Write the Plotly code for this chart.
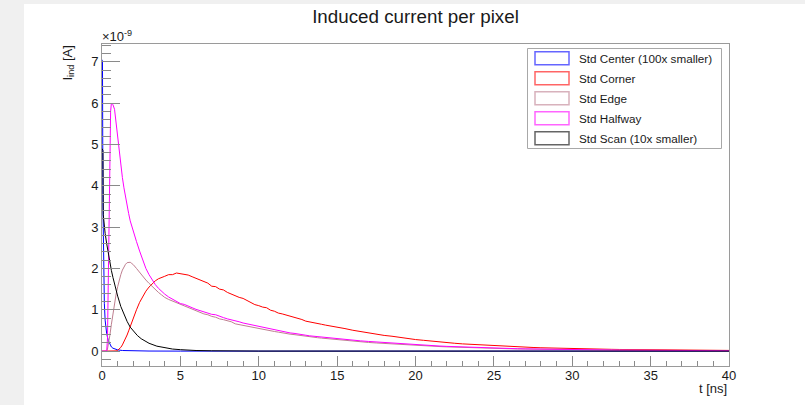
import plotly.graph_objects as go

# ---------------------------------------------------------------------------
# Induced current per pixel (values in units of 1e-9 A, time in ns)
# ---------------------------------------------------------------------------

SERIES_NAMES = ["Std Center (100x smaller)", "Std Corner", "Std Edge",
                "Std Halfway", "Std Scan (10x smaller)"]
SERIES_COLORS = ["#0000ff", "#ff0000", "#bf7f90", "#ff00ff", "#000000"]

# Common bin centres for the slow tails (4 ns .. 40 ns)
TAIL_T = [round(4.0 + 0.25 * i, 2) for i in range(45)] + \
         [round(15.5 + 0.5 * i, 1) for i in range(50)]

# Std Center (already scaled down by 100)
center_t = [0, 0.03, 0.06, 0.1, 0.15, 0.2, 0.3, 0.4, 0.5, 0.6, 0.7, 0.8,
            1.0, 1.3, 2.0, 3.0, 5.0, 40.0]
center_v = [7.05, 7.0, 3.6, 2.0, 1.15, 0.75, 0.42, 0.26, 0.16, 0.1, 0.07,
            0.05, 0.03, 0.015, 0.005, 0.002, 0.0, 0.0]

# Std Corner
corner_t_early = [0, 0.8, 0.9, 1.0, 1.1, 1.2, 1.3, 1.4, 1.5, 1.6, 1.7, 1.8,
                  1.9, 2.0, 2.2, 2.4, 2.6, 2.8, 3.0, 3.2, 3.4, 3.6, 3.8]
corner_v_early = [0, 0, 0.005, 0.02, 0.05, 0.09, 0.15, 0.22, 0.30, 0.39,
                  0.49, 0.60, 0.70, 0.80, 1.0, 1.18, 1.33, 1.45, 1.55, 1.63,
                  1.70, 1.75, 1.79]
corner_v_tail = [1.81, 1.85, 1.85, 1.89, 1.87, 1.85, 1.84, 1.80, 1.76, 1.735,
                 1.68, 1.645, 1.57, 1.56, 1.50, 1.48, 1.42, 1.375, 1.345, 1.30,
                 1.275, 1.22, 1.18, 1.125, 1.10, 1.065, 1.05, 0.99, 0.965, 0.92,
                 0.90, 0.875, 0.84, 0.825, 0.79, 0.765, 0.725, 0.71, 0.69, 0.68,
                 0.65, 0.63, 0.615, 0.59, 0.57,
                 0.545, 0.505, 0.47, 0.445, 0.41, 0.38, 0.36, 0.33, 0.305, 0.28,
                 0.262, 0.24, 0.222, 0.207, 0.19, 0.175, 0.164, 0.15, 0.14, 0.131,
                 0.12, 0.11, 0.103, 0.095, 0.088, 0.081, 0.075, 0.07, 0.066, 0.06,
                 0.056, 0.051, 0.048, 0.045, 0.043, 0.04, 0.037, 0.035, 0.034, 0.031,
                 0.029, 0.027, 0.026, 0.024, 0.023, 0.021, 0.02, 0.019, 0.018, 0.017]

# Std Edge
edge_t_early = [0, 0.3, 0.35, 0.4, 0.5, 0.6, 0.7, 0.8, 0.9, 1.0, 1.1, 1.2,
                1.3, 1.4, 1.5, 1.6, 1.7, 1.8, 1.9, 2.0, 2.2, 2.4, 2.6, 2.8,
                3.0, 3.2, 3.4, 3.6, 3.8]
edge_v_early = [0, 0, 0.05, 0.15, 0.38, 0.65, 0.92, 1.17, 1.38, 1.56, 1.72,
                1.85, 1.96, 2.04, 2.10, 2.14, 2.15, 2.15, 2.12, 2.09, 2.0,
                1.9, 1.8, 1.72, 1.64, 1.56, 1.49, 1.42, 1.36]
edge_v_tail = [1.30, 1.25, 1.21, 1.17, 1.12, 1.09, 1.05, 1.01, 0.97, 0.94,
               0.90, 0.88, 0.84, 0.82, 0.78, 0.76, 0.73, 0.71, 0.66, 0.64,
               0.62, 0.60, 0.58, 0.56, 0.54, 0.52, 0.50, 0.49, 0.475, 0.46,
               0.44, 0.43, 0.41, 0.40, 0.385, 0.37, 0.36, 0.35, 0.335, 0.325,
               0.315, 0.305, 0.295, 0.285, 0.275,
               0.257, 0.24, 0.225, 0.21, 0.197, 0.184, 0.172, 0.161, 0.15, 0.14,
               0.13, 0.12, 0.111, 0.103, 0.095, 0.088, 0.082, 0.076, 0.07, 0.065,
               0.061, 0.057, 0.053, 0.05, 0.047, 0.044, 0.041, 0.039, 0.037, 0.035,
               0.033, 0.031, 0.029, 0.027, 0.025, 0.023, 0.022, 0.02, 0.019, 0.018,
               0.017, 0.016, 0.015, 0.014, 0.013, 0.012, 0.012, 0.011, 0.01, 0.01]

# Std Halfway
half_t_early = [0, 0.3, 0.35, 0.4, 0.45, 0.5, 0.55, 0.6, 0.65, 0.7, 0.8, 0.9,
                1.0, 1.1, 1.2, 1.3, 1.4, 1.5, 1.6, 1.7, 1.8, 1.9, 2.0, 2.2,
                2.4, 2.6, 2.8, 3.0, 3.2, 3.4, 3.6, 3.8]
half_v_early = [0, 0, 0.3, 1.5, 3.5, 5.0, 5.8, 6.0, 5.99, 5.96, 5.85, 5.5,
                5.15, 4.8, 4.48, 4.2, 3.95, 3.72, 3.52, 3.33, 3.15, 3.01, 2.9,
                2.65, 2.42, 2.2, 2.0, 1.85, 1.72, 1.61, 1.52, 1.44]
half_v_tail = [1.38, 1.31, 1.25, 1.19, 1.15, 1.13, 1.08, 1.05, 1.01, 0.98,
               0.95, 0.93, 0.89, 0.88, 0.84, 0.81, 0.78, 0.76, 0.73, 0.71,
               0.68, 0.66, 0.64, 0.61, 0.59, 0.57, 0.55, 0.53, 0.51, 0.49,
               0.475, 0.46, 0.44, 0.43, 0.41, 0.40, 0.385, 0.37, 0.36, 0.345,
               0.335, 0.32, 0.31, 0.30, 0.29,
               0.275, 0.262, 0.248, 0.234, 0.22, 0.205, 0.192, 0.18, 0.167, 0.155,
               0.144, 0.134, 0.124, 0.115, 0.107, 0.099, 0.091, 0.084, 0.078, 0.072,
               0.067, 0.062, 0.058, 0.054, 0.05, 0.047, 0.044, 0.041, 0.038, 0.036,
               0.034, 0.032, 0.03, 0.028, 0.026, 0.024, 0.023, 0.021, 0.02, 0.019,
               0.018, 0.017, 0.016, 0.015, 0.014, 0.013, 0.012, 0.012, 0.011, 0.01]

# Std Scan (already scaled down by 10)
scan_t = [0, 0.06, 0.08, 0.1, 0.2, 0.3, 0.4, 0.5, 0.6, 0.7, 0.8, 0.9, 1.0,
          1.2, 1.4, 1.6, 1.8, 2.0, 2.25, 2.5, 2.75, 3.0, 3.5, 4.0, 4.5, 5.0,
          5.5, 6.0, 7.0, 8.0, 10.0, 40.0]
scan_v = [4.9, 4.85, 3.3, 3.2, 2.85, 2.6, 2.35, 2.15, 1.95, 1.78, 1.62, 1.47,
          1.33, 1.08, 0.88, 0.72, 0.58, 0.48, 0.38, 0.30, 0.24, 0.19, 0.12,
          0.08, 0.05, 0.035, 0.02, 0.015, 0.008, 0.004, 0.001, 0.0]

for a, b in [(center_t, center_v), (corner_t_early, corner_v_early),
             (edge_t_early, edge_v_early), (half_t_early, half_v_early),
             (scan_t, scan_v)]:
    assert len(a) == len(b)
for tail in (corner_v_tail, edge_v_tail, half_v_tail):
    assert len(tail) == len(TAIL_T)

series = [
    (center_t, center_v),
    (corner_t_early + TAIL_T, corner_v_early + corner_v_tail),
    (edge_t_early + TAIL_T, edge_v_early + edge_v_tail),
    (half_t_early + TAIL_T, half_v_early + half_v_tail),
    (scan_t, scan_v),
]

X_RANGE = [0, 40]
Y_RANGE = [-0.36, 7.43]
X_TICKS = [0, 5, 10, 15, 20, 25, 30, 35, 40]
Y_TICKS = [0, 1, 2, 3, 4, 5, 6, 7]

# ---------------------------------------------------------------------------
W, H = 805, 405
ML, MR, MT, MB = 102, 76, 44, 39
PW, PH = W - ML - MR, H - MT - MB


def px(xp):
    return (xp - ML) / PW


def py(yp):
    return (H - MB - yp) / PH


fig = go.Figure()
for (t, v), name, color in zip(series, SERIES_NAMES, SERIES_COLORS):
    fig.add_trace(go.Scatter(x=t, y=v, mode="lines", name=name,
                             line=dict(color=color, width=1),
                             showlegend=False, hoverinfo="skip"))

FONT = "Liberation Sans, Arial, Helvetica, sans-serif"
AXIS_GREY = "#9a9a9a"
TICK_GREY = "#8a8a8a"

fig.update_layout(
    width=W, height=H,
    margin=dict(l=ML, r=MR, t=MT, b=MB, pad=0),
    paper_bgcolor="#f0f0f0",
    plot_bgcolor="white",
    font=dict(family=FONT, size=13, color="#1a1a1a"),
    title=dict(text="Induced current per pixel", x=415.5 / W, xanchor="center",
               y=1 - 16 / H, yanchor="middle", xref="container", yref="container",
               font=dict(size=18.8, family=FONT, color="#1a1a1a")),
    xaxis=dict(range=X_RANGE, tickvals=X_TICKS, ticks="inside", ticklen=10,
               tickwidth=1, tickcolor=TICK_GREY, showline=True, mirror=True,
               linecolor=AXIS_GREY, linewidth=1, showgrid=False, zeroline=False,
               tickfont=dict(size=13), ticklabelstandoff=-3,
               minor=dict(dtick=1, ticks="inside", ticklen=5, tickcolor=TICK_GREY,
                          showgrid=False)),
    yaxis=dict(range=Y_RANGE, tickvals=Y_TICKS, ticks="inside", ticklen=18,
               tickwidth=1, tickcolor=TICK_GREY, showline=True, mirror=True,
               linecolor=AXIS_GREY, linewidth=1, showgrid=False, zeroline=False,
               tickfont=dict(size=13),
               minor=dict(dtick=0.2, tick0=0, ticks="inside", ticklen=9,
                          tickcolor=TICK_GREY, showgrid=False)),
)

shapes = [
    # white canvas over the grey window background
    dict(type="rect", xref="paper", yref="paper", layer="below",
         x0=px(24), x1=px(W + 2), y0=py(H + 2), y1=py(4),
         fillcolor="white", line=dict(width=0)),
    # legend box
    dict(type="rect", xref="paper", yref="paper",
         x0=px(527.5), x1=px(721.5), y0=py(148.5), y1=py(48.5),
         fillcolor="white", line=dict(color="#a8a8a8", width=1)),
]
annotations = [
    dict(text="I<sub>ind</sub> [A]", xref="paper", yref="paper",
         x=px(68), y=1.0, xanchor="center", yanchor="top", textangle=-90,
         showarrow=False, font=dict(size=13)),
    dict(text="×10<sup>-9</sup>", xref="paper", yref="paper",
         x=px(100), y=py(46), xanchor="left", yanchor="bottom",
         showarrow=False, font=dict(size=13)),
    dict(text="t [ns]", xref="paper", yref="paper",
         x=1.0, y=py(388), xanchor="right", yanchor="middle",
         showarrow=False, font=dict(size=13)),
]

# legend entries: outlined colour boxes with labels
for i, (name, color) in enumerate(zip(SERIES_NAMES, SERIES_COLORS)):
    yc = 58.3 + 20 * i
    shapes.append(dict(type="rect", xref="paper", yref="paper",
                       x0=px(535), x1=px(569), y0=py(yc + 6.5), y1=py(yc - 6.5),
                       fillcolor="rgba(0,0,0,0)", opacity=0.6,
                       line=dict(color=color, width=1.5)))
    annotations.append(dict(text=name, xref="paper", yref="paper",
                            x=px(576.5), y=py(yc), xanchor="left", yanchor="middle",
                            showarrow=False, font=dict(size=11.7)))

fig.update_layout(shapes=shapes, annotations=annotations)

fig.write_html("out.html")
